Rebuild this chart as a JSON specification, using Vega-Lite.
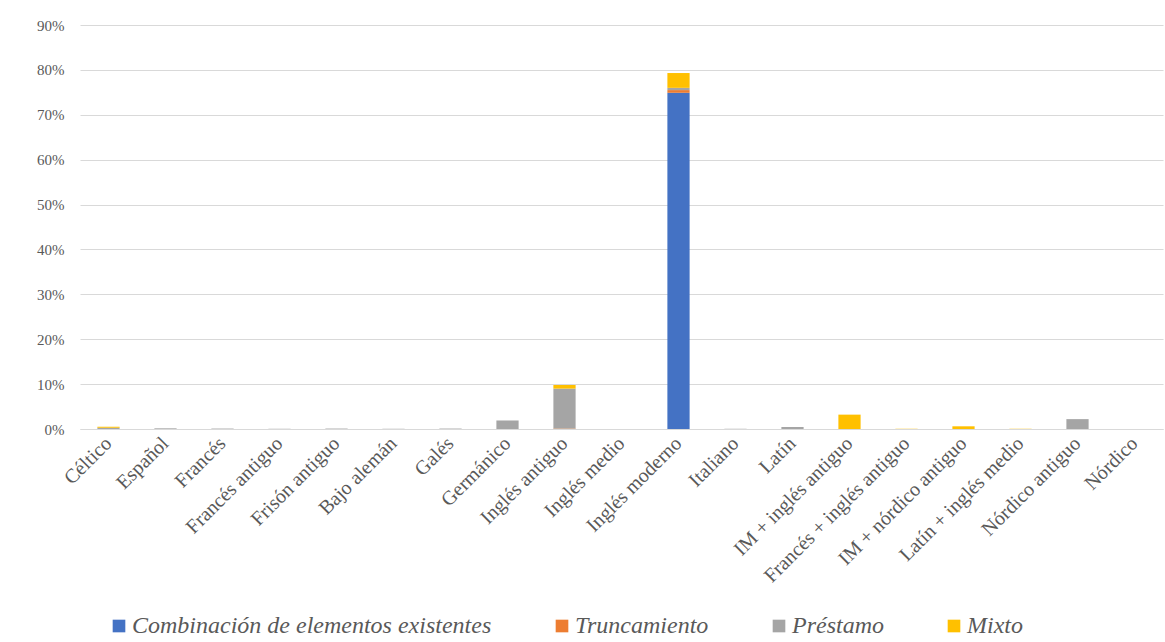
{
  "$schema": "https://vega.github.io/schema/vega-lite/v6.json",
  "autosize": {"type": "none"},
  "padding": {"left": 80, "top": 25, "right": 2, "bottom": 213},
  "width": 1083,
  "height": 404,
  "background": "white",
  "datasets": {
    "tipos": [
      {"tipo": "Combinación de elementos existentes", "orden": 1},
      {"tipo": "Truncamiento", "orden": 2},
      {"tipo": "Préstamo", "orden": 3},
      {"tipo": "Mixto", "orden": 4}
    ]
  },
  "data": {
    "values": [
      {"categoria": "Céltico", "tipo": "Préstamo", "valor": 0.003},
      {"categoria": "Céltico", "tipo": "Mixto", "valor": 0.002},
      {"categoria": "Español", "tipo": "Préstamo", "valor": 0.0015},
      {"categoria": "Francés", "tipo": "Préstamo", "valor": 0.001},
      {"categoria": "Francés antiguo", "tipo": "Préstamo", "valor": 0.0005},
      {"categoria": "Frisón antiguo", "tipo": "Préstamo", "valor": 0.001},
      {"categoria": "Bajo alemán", "tipo": "Préstamo", "valor": 0.0005},
      {"categoria": "Galés", "tipo": "Préstamo", "valor": 0.001},
      {"categoria": "Germánico", "tipo": "Préstamo", "valor": 0.019},
      {"categoria": "Inglés antiguo", "tipo": "Truncamiento", "valor": 0.001},
      {"categoria": "Inglés antiguo", "tipo": "Préstamo", "valor": 0.089},
      {"categoria": "Inglés antiguo", "tipo": "Mixto", "valor": 0.008},
      {"categoria": "Inglés medio", "tipo": "Préstamo", "valor": 0},
      {"categoria": "Inglés moderno", "tipo": "Combinación de elementos existentes", "valor": 0.749},
      {"categoria": "Inglés moderno", "tipo": "Truncamiento", "valor": 0.006},
      {"categoria": "Inglés moderno", "tipo": "Préstamo", "valor": 0.005},
      {"categoria": "Inglés moderno", "tipo": "Mixto", "valor": 0.033},
      {"categoria": "Italiano", "tipo": "Préstamo", "valor": 0.0005},
      {"categoria": "Latín", "tipo": "Préstamo", "valor": 0.0045},
      {"categoria": "IM + inglés antiguo", "tipo": "Mixto", "valor": 0.032},
      {"categoria": "Francés + inglés antiguo", "tipo": "Mixto", "valor": 0.0005},
      {"categoria": "IM + nórdico antiguo", "tipo": "Mixto", "valor": 0.006},
      {"categoria": "Latín + inglés medio", "tipo": "Mixto", "valor": 0.0005},
      {"categoria": "Nórdico antiguo", "tipo": "Préstamo", "valor": 0.022},
      {"categoria": "Nórdico", "tipo": "Préstamo", "valor": 0}
    ]
  },
  "transform": [
    {"lookup": "tipo", "from": {"data": {"name": "tipos"}, "key": "tipo", "fields": ["orden"]}}
  ],
  "mark": {"type": "bar", "width": {"band": 0.39}},
  "encoding": {
    "x": {
      "field": "categoria",
      "type": "nominal",
      "sort": ["Céltico", "Español", "Francés", "Francés antiguo", "Frisón antiguo", "Bajo alemán", "Galés", "Germánico", "Inglés antiguo", "Inglés medio", "Inglés moderno", "Italiano", "Latín", "IM + inglés antiguo", "Francés + inglés antiguo", "IM + nórdico antiguo", "Latín + inglés medio", "Nórdico antiguo", "Nórdico"],
      "scale": {"paddingInner": 0, "paddingOuter": 0},
      "axis": {
        "title": null,
        "labelAngle": -45,
        "labelAlign": "right",
        "labelBaseline": "middle",
        "labelFont": "Liberation Serif",
        "labelFontSize": 20,
        "labelColor": "#595959",
        "labelPadding": 11,
        "labelLimit": 400,
        "ticks": false,
        "domainColor": "#D9D9D9",
        "domainWidth": 1
      }
    },
    "y": {
      "field": "valor",
      "type": "quantitative",
      "aggregate": "sum",
      "stack": "zero",
      "scale": {"domain": [0, 0.9], "nice": false},
      "axis": {
        "title": null,
        "format": ".0%",
        "values": [0, 0.1, 0.2, 0.3, 0.4, 0.5, 0.6, 0.7, 0.8, 0.9],
        "labelFont": "Liberation Serif",
        "labelFontSize": 15,
        "labelColor": "#595959",
        "labelPadding": 16,
        "ticks": false,
        "domain": false,
        "gridColor": "#D9D9D9",
        "gridWidth": 1
      }
    },
    "order": {"field": "orden", "type": "quantitative", "sort": "ascending"},
    "color": {
      "field": "tipo",
      "type": "nominal",
      "sort": ["Combinación de elementos existentes", "Truncamiento", "Préstamo", "Mixto"],
      "scale": {
        "domain": ["Combinación de elementos existentes", "Truncamiento", "Préstamo", "Mixto"],
        "range": ["#4472C4", "#ED7D31", "#A5A5A5", "#FFC000"]
      },
      "legend": {
        "title": null,
        "orient": "none",
        "direction": "horizontal",
        "legendX": 27,
        "legendY": 589,
        "symbolType": "square",
        "symbolSize": 160,
        "symbolStrokeWidth": 0,
        "symbolOpacity": 1,
        "labelFont": "Liberation Serif",
        "labelFontStyle": "italic",
        "labelFontSize": 24,
        "labelColor": "#595959",
        "labelOffset": 1,
        "columnPadding": 58,
        "labelLimit": 500
      }
    }
  },
  "config": {
    "view": {"stroke": null}
  }
}
